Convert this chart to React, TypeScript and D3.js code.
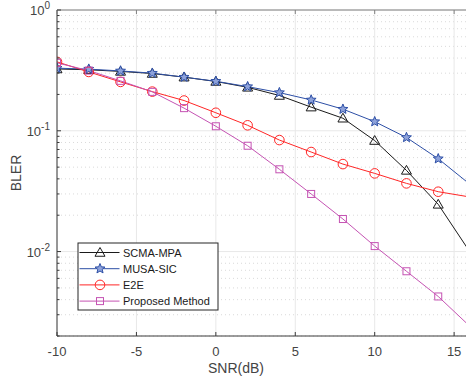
import React from "react";
import * as d3 from "d3";

const snr = [-10, -8, -6, -4, -2, 0, 2, 4, 6, 8, 10, 12, 14, 16];
const scmaMpa = [0.325, 0.32, 0.31, 0.298, 0.278, 0.256, 0.229, 0.196, 0.157, 0.127, 0.083, 0.047, 0.0246, 0.0099];
const musaSic = [0.33, 0.324, 0.313, 0.3, 0.278, 0.257, 0.232, 0.207, 0.18, 0.151, 0.119, 0.088, 0.0587, 0.036];
const e2e = [0.372, 0.307, 0.254, 0.211, 0.178, 0.141, 0.111, 0.0838, 0.0667, 0.053, 0.0444, 0.0367, 0.0313, 0.0283];
const proposed = [0.365, 0.315, 0.259, 0.21, 0.154, 0.109, 0.0752, 0.048, 0.03, 0.0186, 0.0111, 0.00687, 0.00425, 0.0024];

const seriesNames = ["SCMA-MPA", "MUSA-SIC", "E2E", "Proposed Method"];
const xTicks = [-10, -5, 0, 5, 10, 15];
const yDecades = [0, -1, -2];

const W = 466, H = 379;
const L = 57, R = 470, T = 10, B = 336;

const colors = ["#1a1a1a", "#2d4fa6", "#ff2626", "#c553b3"];

function Marker({ kind, x, y, color }: { kind: number; x: number; y: number; color: string }) {
  if (kind === 0) {
    const s = 5;
    return <path d={`M${x},${y - s} L${x + s},${y + s * 0.75} L${x - s},${y + s * 0.75} Z`} fill="none" stroke={color} strokeWidth={1} />;
  }
  if (kind === 1) {
    const pts: string[] = [];
    for (let i = 0; i < 10; i++) {
      const r = i % 2 === 0 ? 5.2 : 2.3;
      const a = -Math.PI / 2 + (i * Math.PI) / 5;
      pts.push(`${x + r * Math.cos(a)},${y + r * Math.sin(a)}`);
    }
    return <polygon points={pts.join(" ")} fill="#8ea2da" stroke={color} strokeWidth={1} />;
  }
  if (kind === 2) {
    return <circle cx={x} cy={y} r={4.8} fill="none" stroke={color} strokeWidth={1} />;
  }
  return <rect x={x - 3.5} y={y - 3.5} width={7} height={7} fill="none" stroke={color} strokeWidth={1} />;
}

export default function App() {
  const x = d3.scaleLinear().domain([-10, 16]).range([L, R]);
  const y = d3.scaleLog().domain([0.002, 1]).range([B, T]);
  const all = [scmaMpa, musaSic, e2e, proposed];
  const line = d3
    .line<[number, number]>()
    .x((d) => x(d[0]))
    .y((d) => y(d[1]));

  const minor: number[] = [];
  for (let e = -3; e < 0; e++) {
    for (let m = 2; m <= 9; m++) {
      const v = m * Math.pow(10, e);
      if (v >= 0.002 && v < 1) minor.push(v);
    }
  }

  const font = "'Liberation Sans', Arial, Helvetica, sans-serif";
  const tickColor = "#3a3a3a";

  return (
    <svg width={W} height={H} style={{ position: "absolute", left: 0, top: 0, background: "#fff" }} fontFamily={font}>
      <defs>
        <clipPath id="plotClip">
          <rect x={L} y={T} width={R - L} height={B - T} />
        </clipPath>
      </defs>
      <rect x={0} y={0} width={W} height={H} fill="#fff" />
      {minor.map((v, i) => (
        <line key={"mg" + i} x1={L} x2={R} y1={y(v)} y2={y(v)} stroke="#d0d0d0" strokeWidth={0.8} strokeDasharray="1,3" />
      ))}
      {yDecades.map((e) => (
        <line key={"yg" + e} x1={L} x2={R} y1={y(Math.pow(10, e))} y2={y(Math.pow(10, e))} stroke="#e8e8e8" strokeWidth={1} />
      ))}
      {xTicks.map((t) => (
        <line key={"xg" + t} x1={x(t)} x2={x(t)} y1={T} y2={B} stroke="#e8e8e8" strokeWidth={1} />
      ))}
      <g clipPath="url(#plotClip)">
        {all.map((vals, si) => (
          <path
            key={"s" + si}
            d={line(snr.map((s, i) => [s, vals[i]] as [number, number])) || ""}
            fill="none"
            stroke={colors[si]}
            strokeWidth={1}
          />
        ))}
        {all.map((vals, si) =>
          snr
            .filter((s) => s <= 14)
            .map((s, i) => <Marker key={"m" + si + "-" + i} kind={si} x={x(s)} y={y(vals[i])} color={colors[si]} />)
        )}
      </g>
      <line x1={L} x2={R} y1={B} y2={B} stroke={tickColor} strokeWidth={1} />
      <line x1={L} x2={L} y1={T} y2={B} stroke={tickColor} strokeWidth={1} />
      <line x1={L} x2={R} y1={T} y2={T} stroke="#808080" strokeWidth={1} />
      {xTicks.map((t) => (
        <g key={"xt" + t}>
          <line x1={x(t)} x2={x(t)} y1={B} y2={B - 4} stroke={tickColor} />
          <line x1={x(t)} x2={x(t)} y1={T} y2={T + 4} stroke="#808080" />
          <text x={x(t)} y={356} fontSize={13} textAnchor="middle" fill="#444">
            {t}
          </text>
        </g>
      ))}
      {yDecades.map((e) => (
        <g key={"yt" + e}>
          <line x1={L} x2={L + 4} y1={y(Math.pow(10, e))} y2={y(Math.pow(10, e))} stroke={tickColor} />
          <text x={50} y={y(Math.pow(10, e)) + 5} fontSize={13} textAnchor="end" fill="#444">
            10
            <tspan dy={-6} fontSize={10}>
              {String(e)}
            </tspan>
          </text>
        </g>
      ))}
      {minor.map((v, i) => (
        <line key={"mt" + i} x1={L} x2={L + 2.5} y1={y(v)} y2={y(v)} stroke={tickColor} />
      ))}
      <text x={236} y={373} fontSize={14} textAnchor="middle" fill="#444">
        SNR(dB)
      </text>
      <text transform="translate(21,173) rotate(-90)" fontSize={14} textAnchor="middle" fill="#444">
        BLER
      </text>
      <rect x={78} y={243} width={140} height={67} fill="#fff" stroke="#262626" strokeWidth={1} />
      {seriesNames.map((n, i) => {
        const ly = 252.5 + i * 16.2;
        return (
          <g key={"lg" + i}>
            <line x1={79.5} x2={119.5} y1={ly} y2={ly} stroke={colors[i]} strokeWidth={1} />
            <Marker kind={i} x={100} y={ly} color={colors[i]} />
            <text x={123} y={ly + 4} fontSize={11} fill="#1a1a1a">
              {n}
            </text>
          </g>
        );
      })}
    </svg>
  );
}
